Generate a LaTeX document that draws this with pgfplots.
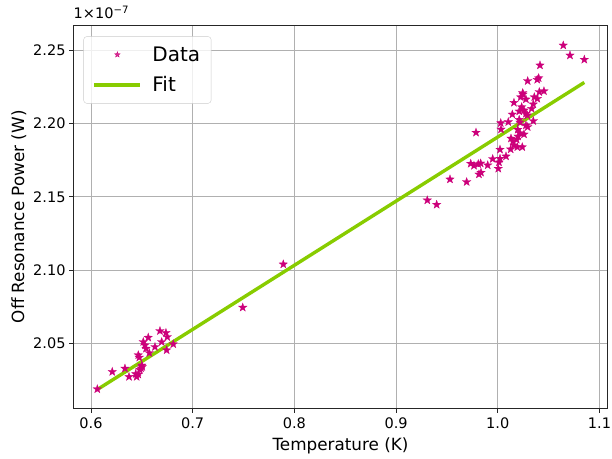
\documentclass[border=0pt]{standalone}
\usepackage{pgfplots}
\pgfplotsset{compat=1.18}
\usepackage{fontspec}
\setmainfont{DejaVu Sans}
\definecolor{starc}{RGB}{204,0,122}
\definecolor{fitc}{RGB}{136,204,0}
\definecolor{gridc}{RGB}{176,176,176}
\pgfdeclareplotmark{fstar}{%
  \pgfpathmoveto{\pgfpointpolar{90}{\pgfplotmarksize}}%
  \pgfpathlineto{\pgfpointpolar{126}{0.4\pgfplotmarksize}}%
  \pgfpathlineto{\pgfpointpolar{162}{\pgfplotmarksize}}%
  \pgfpathlineto{\pgfpointpolar{198}{0.4\pgfplotmarksize}}%
  \pgfpathlineto{\pgfpointpolar{234}{\pgfplotmarksize}}%
  \pgfpathlineto{\pgfpointpolar{270}{0.4\pgfplotmarksize}}%
  \pgfpathlineto{\pgfpointpolar{306}{\pgfplotmarksize}}%
  \pgfpathlineto{\pgfpointpolar{342}{0.4\pgfplotmarksize}}%
  \pgfpathlineto{\pgfpointpolar{18}{\pgfplotmarksize}}%
  \pgfpathlineto{\pgfpointpolar{54}{0.4\pgfplotmarksize}}%
  \pgfpathclose
  \pgfusepathqfillstroke}
\pgfplotstableread{
x y
0.6062 2.0188
0.6209 2.0306
0.6334 2.0329
0.6374 2.0272
0.6440 2.0292
0.6465 2.0288
0.6449 2.0272
0.6492 2.0331
0.6504 2.0340
0.6480 2.0320
0.6500 2.0350
0.6465 2.0420
0.6475 2.0404
0.6514 2.0510
0.6531 2.0488
0.6563 2.0540
0.6541 2.0465
0.6573 2.0435
0.6629 2.0476
0.6678 2.0585
0.6695 2.0510
0.6737 2.0572
0.6750 2.0544
0.6744 2.0454
0.6809 2.0495
0.7492 2.0745
0.7891 2.1040
0.9307 2.1477
0.9399 2.1447
0.9530 2.1620
0.9694 2.1602
1.0644 2.2534
1.0710 2.2466
1.0851 2.2437
1.0415 2.2398
1.0294 2.2291
1.0388 2.2300
1.0402 2.2311
1.0408 2.2216
1.0454 2.2222
1.0245 2.2209
1.0248 2.2200
1.0225 2.2181
1.0277 2.2166
1.0359 2.2181
1.0389 2.2170
1.0159 2.2143
1.0349 2.2132
1.0333 2.2102
1.0235 2.2113
1.0211 2.2084
1.0258 2.2091
1.0143 2.2063
1.0277 2.2068
1.0290 2.2057
1.0211 2.2027
1.0103 2.2011
1.0349 2.2018
1.0218 2.2009
1.0029 2.2004
1.0032 2.1961
1.0277 2.1988
1.0294 2.1977
0.9786 2.1939
1.0196 2.1959
1.0218 2.1936
1.0258 2.1927
1.0199 2.1913
1.0186 2.1891
1.0130 2.1899
1.0149 2.1879
1.0159 2.1852
1.0192 2.1840
1.0241 2.1840
1.0127 2.1825
1.0022 2.1823
1.0081 2.1777
1.0022 2.1761
1.0012 2.1736
1.0005 2.1693
0.9950 2.1759
0.9901 2.1716
0.9832 2.1729
0.9808 2.1724
0.9766 2.1713
0.9734 2.1727
0.9815 2.1654
0.9835 2.1666
}\datatable
\begin{document}
\begin{tikzpicture}
\path[use as bounding box] (0,0) rectangle (612bp,459bp);
\begin{axis}[
  at={(73.5bp,50.7bp)}, anchor=south west,
  scale only axis, width=534bp, height=383bp,
  xmin=0.5828, xmax=1.1079, ymin=2.0057, ymax=2.2671,
  xtick={0.6,0.7,0.8,0.9,1.0,1.1},
  ytick={2.05,2.10,2.15,2.20,2.25},
  xticklabel style={yshift=-1.5bp, /pgf/number format/.cd, fixed, fixed zerofill, precision=1},
  yticklabel style={/pgf/number format/.cd, fixed, fixed zerofill, precision=2},
  /pgf/number format/assume math mode=true,
  scaled y ticks=false,
  tick label style={font=\fontsize{14.5bp}{17bp}\selectfont},
  label style={font=\fontsize{16.8bp}{19bp}\selectfont},
  xlabel={Temperature (K)},
  xlabel style={yshift=-2bp},
  ylabel={Off Resonance Power (W)},
  grid=major,
  major grid style={gridc, line width=0.8bp},
  axis line style={black!85, line width=0.8bp},
  tick align=outside, tick pos=left,
  major tick length=4.5bp,
  every tick/.style={black!85, line width=0.8bp},
  legend style={at={(0.0187,0.971)}, anchor=north west,
    draw=black!20, rounded corners=3bp, fill=white, fill opacity=0.8, text opacity=1,
    font=\fontsize{20bp}{24bp}\selectfont, inner xsep=9bp, inner ysep=8bp,
    row sep=10bp},
  legend cell align=left,
  clip=false,
]
\addplot[only marks, mark=fstar, mark size=4.4bp, color=starc, line width=0.3bp,
  legend image code/.code={\path[draw=none,fill=none] (0,0) -- (56bp,0); \draw[mark size=3bp] plot coordinates {(23bp,0)};}]
  table[x=x,y=y]{\datatable};
\addlegendentry{Data}
\addplot[fitc, line width=3.4bp, no marks,
  legend image code/.code={\path[draw=none,fill=none] (0,0) -- (56bp,0); \draw[fitc, line width=3.4bp] (0,0) -- (46bp,0);}]
  coordinates {(0.6062,2.0185) (1.0851,2.2281)};
\addlegendentry{Fit}
\node[anchor=base west, inner sep=0pt, font=\fontsize{14.5bp}{17bp}\selectfont]
  at (rel axis cs:0,1) [yshift=7bp] {1×10\textsuperscript{−7}};
\end{axis}
\end{tikzpicture}
\end{document}
